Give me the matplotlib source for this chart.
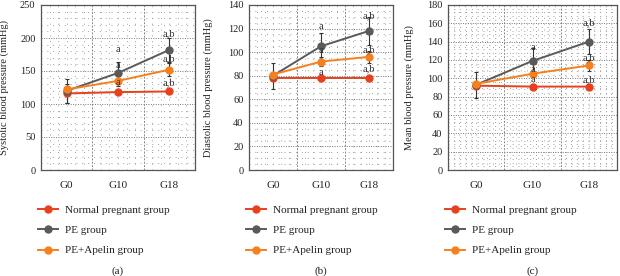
'''
blood pressure of the three groups at G0, G10 and G18
'''
import numpy as np
import matplotlib.pyplot as plt

plt.rcParams['font.family'] = ['Liberation Serif', 'DejaVu Serif']

stages = ['G0', 'G10', 'G18']
groups = ['Normal pregnant group', 'PE group', 'PE+Apelin group']
colors = ['#e8401c', '#5a5a5a', '#f7801e']

# systolic (a)
sbp_normal = [116, 118, 119]
sbp_pe = [120, 147, 182]
sbp_apelin = [122, 135, 152]
sbp_err_normal = [14, 0, 0]
sbp_err_pe = [18, 17, 18]
sbp_err_apelin = [0, 8, 10]
sbp_marks = [['a', 'a', 'a'], ['a,b', 'a,b', 'a,b']]
sbp_mark_y = [[182, 158, 132], [207, 168, 132]]

# diastolic (b)
dbp_normal = [78, 78, 78]
dbp_pe = [80, 105, 118]
dbp_apelin = [81, 92, 96]
dbp_err_normal = [0, 0, 0]
dbp_err_pe = [11, 11, 12]
dbp_err_apelin = [0, 4, 5]
dbp_marks = [['a', 'a', 'a'], ['a,b', 'a,b', 'a,b']]
dbp_mark_y = [[122, 101, 83], [131, 102, 86]]

# mean (c)
mbp_normal = [92, 91, 91]
mbp_pe = [93, 119, 140]
mbp_apelin = [94, 105, 114]
mbp_err_normal = [0, 0, 0]
mbp_err_pe = [14, 14, 14]
mbp_err_apelin = [0, 0, 6]
mbp_marks = [['a', 'a', 'a'], ['a,b', 'a,b', 'a,b']]
mbp_mark_y = [[134, 110, 99], [161, 122, 98]]


def draw_panel(ax, series, errs, marks, mark_y, ymax, ystep, yminor, xminor, ylabel):
    ''' one line chart with dotted grid '''
    x = np.arange(len(stages))

    ax.set_xlim(-0.5, len(stages) - 0.5)
    ax.set_ylim(0, ymax)
    ax.set_yticks(np.arange(0, ymax + 1, ystep))
    ax.set_xticks(x)
    ax.set_xticklabels(stages)
    ax.tick_params(length=0, labelsize=8, colors='#222222', pad=8)
    ax.tick_params(axis='y', pad=4, labelsize=7.5)

    # grid
    for yv in np.arange(0, ymax, ystep / yminor):
        if yv == 0:
            continue
        major = abs(yv / ystep - round(yv / ystep)) < 1e-6
        ax.axhline(yv, color='#777777' if major else '#a0a0a0', lw=0.7,
                   ls=(0, (1, 1.5)) if major else (0, (1, 5)), zorder=0)
    for xv in np.arange(-0.5, len(stages) - 0.5, 1 / xminor):
        major = abs(xv - round(xv - 0.5) - 0.5) < 1e-6
        if xv == -0.5:
            continue
        ax.axvline(xv, color='#888888' if major else '#a0a0a0', lw=0.7,
                   ls=(0, (2, 1.5)) if major else (0, (1, 5)), zorder=0)

    for vals, err, col, name in zip(series, errs, colors, groups):
        ax.errorbar(x, vals, yerr=err, color=col, lw=1.4, marker='o', ms=5,
                    ecolor='#333333', elinewidth=0.8, capsize=1.5, capthick=0.8,
                    label=name, zorder=3)

    for xi in (1, 2):
        for txt, yv in zip(marks[xi - 1], mark_y[xi - 1]):
            ax.text(x[xi], yv, txt, ha='center', va='center', fontsize=7.5,
                    color='#333333', zorder=4)

    for sp in ax.spines.values():
        sp.set_color('#555555')
        sp.set_linewidth(0.9)
    ax.set_ylabel(ylabel, fontsize=7.5, color='#222222')
    return


def main():
    ''' the main module '''
    fig = plt.figure(figsize=(6.2, 2.76), dpi=100)
    W, H = 620, 276

    boxes = [(41, 154), (249, 144), (448, 169)]
    label_x = [-0.205, -0.25, -0.20]
    names = ['(a)', '(b)', '(c)']
    panels = [
        ([sbp_normal, sbp_pe, sbp_apelin], [sbp_err_normal, sbp_err_pe, sbp_err_apelin],
         sbp_marks, sbp_mark_y, 250, 50, 5, 6, 'Systolic blood pressure (mmHg)'),
        ([dbp_normal, dbp_pe, dbp_apelin], [dbp_err_normal, dbp_err_pe, dbp_err_apelin],
         dbp_marks, dbp_mark_y, 140, 20, 4, 6, 'Diastolic blood pressure (mmHg)'),
        ([mbp_normal, mbp_pe, mbp_apelin], [mbp_err_normal, mbp_err_pe, mbp_err_apelin],
         mbp_marks, mbp_mark_y, 180, 20, 5, 10, 'Mean blood pressure (mmHg)'),
    ]

    for (left, width), lx, name, p in zip(boxes, label_x, names, panels):
        ax = fig.add_axes([left / W, 1 - 170 / H, width / W, 165 / H])
        draw_panel(ax, *p)
        ax.yaxis.set_label_coords(lx, 0.5)

        handles, labels = ax.get_legend_handles_labels()
        handles = [h[0] for h in handles]
        fig.legend(handles, labels, loc='upper left',
                   bbox_to_anchor=((left - 3) / W, 1 - 205 / H),
                   frameon=False, fontsize=8, handlelength=1.8,
                   handletextpad=0.6, labelspacing=0.95, borderpad=0,
                   borderaxespad=0, labelcolor='#222222')

        fig.text((left + width / 2) / W, 1 - 271 / H, name, ha='center',
                 va='center', fontsize=8, color='#222222')

    fig.savefig('out.png', dpi=100)
    return


if __name__ == '__main__':
    main()
